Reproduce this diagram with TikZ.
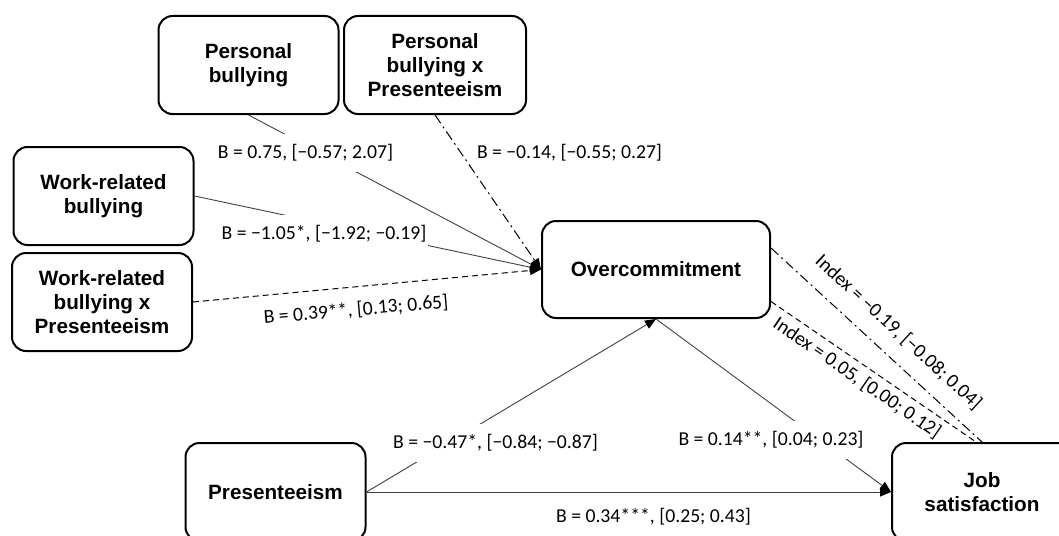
\documentclass[tikz,border=0pt]{standalone}
\usepackage{fontspec}
\newfontfamily\boxfont{Liberation Sans}
\newfontfamily\lblfont{Carlito}
\usetikzlibrary{arrows.meta}

\tikzset{
  box/.style={draw, line width=2pt, rounded corners=14pt, align=center,
    minimum width=180pt, minimum height=98pt, inner sep=0pt,
    font=\boxfont\bfseries\fontsize{20.7}{24}\selectfont},
  lbl/.style={font=\lblfont\fontsize{19.7}{22}\selectfont, inner xsep=2pt, inner ysep=0pt},
  gap/.style={lbl, fill=white, minimum height=38pt},
  link/.style={line width=0.9pt, draw=black!75},
  tip/.style={-{Triangle[length=11pt,width=9pt,color=black]}},
  dashlink/.style={line width=1pt, dash pattern=on 6pt off 4pt},
  dotlink/.style={line width=1pt, dash pattern=on 10pt off 4pt on 2pt off 4pt}
}

\begin{document}
\begin{tikzpicture}[x=1pt, y=-1pt]
      \useasboundingbox (0,0) rectangle (1059,535);
      \draw
        (248.5,65) node[box] (pb){Personal\\bullying}
        (435,65) node[box, minimum width=182pt] (pbx){Personal\\bullying x\\Presenteeism}
        (103.5,196) node[box] (wrb){Work-related\\bullying}
        (102,302) node[box] (wrbx){Work-related\\bullying x\\Presenteeism}
        (656,269.5) node[box, minimum width=228pt, minimum height=97pt] (oc){Overcommitment}
        (275.5,492) node[box] (pres){Presenteeism}
        (982,492) node[box] (js){Job\\satisfaction};
      \begin{scope}[tip]
        \draw[link] (pb.south) to (oc.west)
          node[gap] (b1) at (305.5,153) {B = 0.75, [−0.57; 2.07]};
        \draw[link] (wrb.east) to (oc.west)
          node[gap] (b2) at (324,234) {B = −1.05*, [−1.92; −0.19]};
        \draw[dotlink] (pbx.south) to (oc.west)
          node[lbl] (b3) at (569.5,153) {B = −0.14, [−0.55; 0.27]};
        \draw[dashlink] (wrbx.east) to (oc.west)
          node[lbl, rotate=5] (b4) at (356,310) {B = 0.39**, [0.13; 0.65]};
        \draw[link] (pres.east) to (oc.south)
          node[gap] (b5) at (495.5,443) {B = −0.47*, [−0.84; −0.87]};
        \draw[link] (oc.south) to (js.west)
          node[gap] (b6) at (771,440) {B = 0.14**, [0.04; 0.23]};
        \draw[link] (pres.east) to (js.west)
          node[lbl] (b7) at (653.5,517) {B = 0.34***, [0.25; 0.43]};
      \end{scope}
      \begin{scope}[-]
        \draw[dotlink] ([yshift=21.5pt]oc.east) to (js.north)
          node[lbl, rotate=-42.6] (i1) at (898.5,332.5) {Index = −0.19, [−0.08; 0.04]};
        \draw[dashlink] ([yshift=-32pt]oc.east) to ([xshift=-6pt]js.north)
          node[lbl, rotate=-34.4] (i2) at (857,378) {Index = 0.05, [0.00; 0.12]};
      \end{scope}
    \end{tikzpicture}
\end{document}
